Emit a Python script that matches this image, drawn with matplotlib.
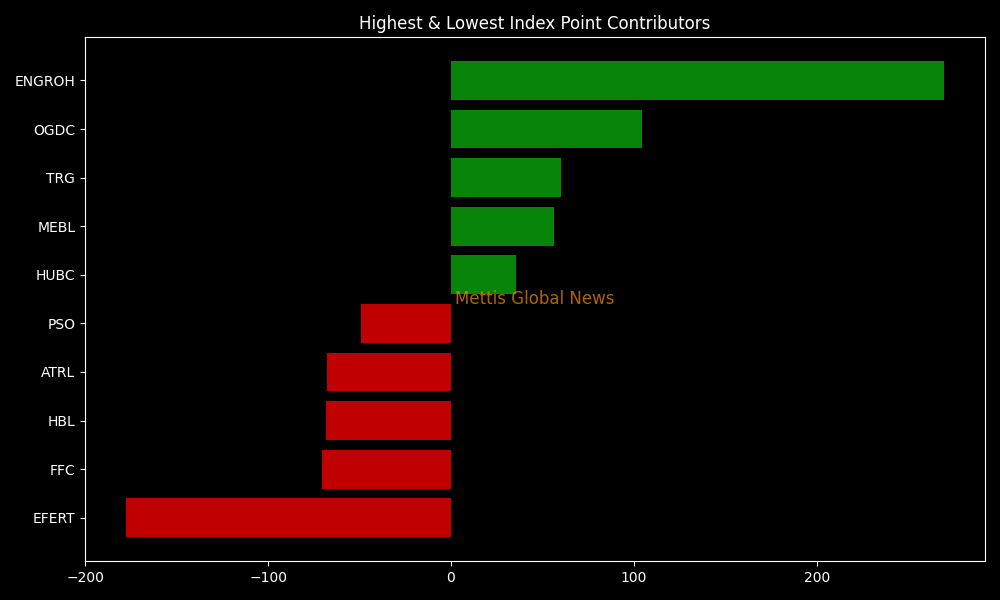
import matplotlib
matplotlib.use("Agg")
import matplotlib.pyplot as plt

symbols = ["EFERT", "FFC", "HBL", "ATRL", "PSO", "HUBC", "MEBL", "TRG", "OGDC", "ENGROH"]
points = [-177.8, -70.6, -68.4, -67.8, -49.2, 35.6, 56.3, 60.2, 104.5, 269.7]

plt.style.use("dark_background")
fig, ax = plt.subplots(figsize=(10, 6), dpi=100)
fig.subplots_adjust(left=0.085, right=0.985, top=0.938, bottom=0.065)

colors = ["#088508" if v >= 0 else "#c00000" for v in points]
ax.barh(symbols, points, color=colors, height=0.8)
ax.set_title("Highest & Lowest Index Point Contributors", fontsize=12)
ax.text(2, 4.5, "Mettis Global News", color="darkorange", alpha=0.7,
        fontsize=12, va="center", ha="left")

fig.savefig("out.png", facecolor="black")
